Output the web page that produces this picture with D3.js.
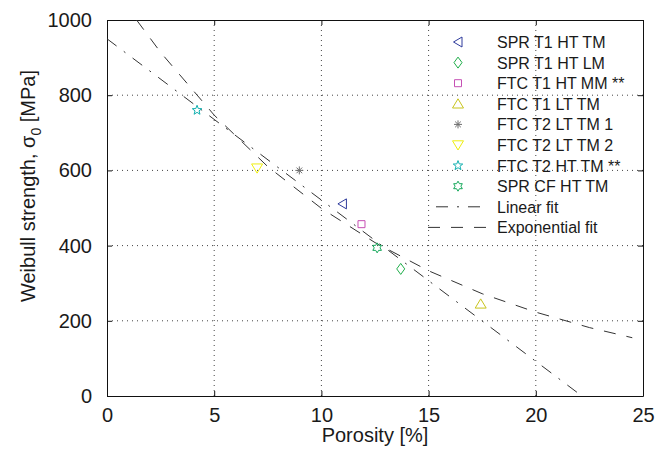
<html>
<head>
<meta charset="utf-8">
<title>Weibull strength vs porosity</title>
<script src="https://cdn.jsdelivr.net/npm/d3@7"></script>
<style>
  body { margin: 0; background: #fff; }
  text { font-family: "Liberation Sans", Arial, Helvetica, sans-serif; fill: #1a1a1a; }
</style>
</head>
<body>
<div id="chart"></div>
<script>
// data
const seriesNames = ["SPR T1 HT TM", "SPR T1 HT LM", "FTC T1 HT MM **", "FTC T1 LT TM",
                     "FTC T2 LT TM 1", "FTC T2 LT TM 2", "FTC T2 HT TM **", "SPR CF HT TM"];
const porosity = [10.98, 13.7, 11.87, 17.43, 8.97, 7.0, 4.2, 12.6];
const strength = [511, 338, 457, 245, 600, 606, 760, 394];
const markerShapes = ["triLeft", "diamond", "square", "triUp", "asterisk", "triDown", "pentagram", "hexagram"];
const markerColors = ["#2e3b9c", "#1fae4a", "#c64fb4", "#c8c41c", "#6e6e6e", "#eeee10", "#12b0b0", "#14a85a"];

const linearX = [0, 22.15];
const linearY = [950, 0];
const expX = [1.38, 2.5, 5, 7.5, 10, 12.5, 15, 17.5, 20, 22.5, 24.5];
const expY = [1000, 914, 747, 610, 499, 408, 333, 272, 223, 182, 155];

const xTicks = [0, 5, 10, 15, 20, 25];
const yTicks = [0, 200, 400, 600, 800, 1000];

const W = 669, H = 449;
const m = {left: 107, right: 26, top: 20, bottom: 53};

const x = d3.scaleLinear().domain([0, 25]).range([m.left, W - m.right]);
const y = d3.scaleLinear().domain([0, 1000]).range([H - m.bottom, m.top]);

const svg = d3.select("#chart").append("svg")
  .attr("width", W).attr("height", H);

// grid
const grid = svg.append("g").attr("stroke", "#444").attr("stroke-width", 1)
  .attr("stroke-dasharray", "1,4");
xTicks.slice(1, -1).forEach(t => {
  grid.append("line").attr("x1", x(t)).attr("x2", x(t))
    .attr("y1", y(0)).attr("y2", y(1000));
});
yTicks.slice(1, -1).forEach(t => {
  grid.append("line").attr("x1", x(0)).attr("x2", x(25))
    .attr("y1", y(t)).attr("y2", y(t));
});

// axes (box with inward ticks)
const tickSize = -5;
const fmt = d3.format("d");
svg.append("g").attr("transform", `translate(0,${y(0)})`)
  .call(d3.axisBottom(x).tickValues(xTicks).tickFormat(fmt).tickSizeInner(tickSize).tickSizeOuter(0).tickPadding(12));
svg.append("g").attr("transform", `translate(0,${y(1000)})`)
  .call(d3.axisTop(x).tickValues(xTicks).tickSizeInner(tickSize).tickSizeOuter(0).tickFormat(""));
svg.append("g").attr("transform", `translate(${x(0)},0)`)
  .call(d3.axisLeft(y).tickValues(yTicks).tickFormat(fmt).tickSizeInner(tickSize).tickSizeOuter(0).tickPadding(15));
svg.append("g").attr("transform", `translate(${x(25)},0)`)
  .call(d3.axisRight(y).tickValues(yTicks).tickSizeInner(tickSize).tickSizeOuter(0).tickFormat(""));

svg.selectAll(".domain").attr("stroke", "#111");
svg.selectAll(".tick line").attr("stroke", "#111");
svg.selectAll(".tick text").attr("font-size", 20).attr("fill", "#1a1a1a")
  .style("font-family", '"Liberation Sans", Arial, sans-serif');

// axis labels
svg.append("text").attr("x", 375).attr("y", 442).attr("text-anchor", "middle")
  .attr("font-size", 20).text("Porosity [%]");
const yl = svg.append("text").attr("transform", "translate(35,186) rotate(-90)")
  .attr("text-anchor", "middle").attr("font-size", 20);
yl.append("tspan").text("Weibull strength, σ");
yl.append("tspan").attr("font-size", 14).attr("dy", 6).text("0");
yl.append("tspan").attr("dy", -6).text(" [MPa]");

// marker shapes
function markerPath(shape, s) {
  const p = d3.path();
  if (shape === "triLeft") {
    p.moveTo(-s * 0.45, 0); p.lineTo(s * 0.4, -s * 0.5); p.lineTo(s * 0.4, s * 0.5); p.closePath();
  } else if (shape === "triUp") {
    p.moveTo(0, -s * 0.5); p.lineTo(s * 0.55, s * 0.42); p.lineTo(-s * 0.55, s * 0.42); p.closePath();
  } else if (shape === "triDown") {
    p.moveTo(0, s * 0.5); p.lineTo(s * 0.55, -s * 0.42); p.lineTo(-s * 0.55, -s * 0.42); p.closePath();
  } else if (shape === "diamond") {
    p.moveTo(0, -s * 0.55); p.lineTo(s * 0.4, 0); p.lineTo(0, s * 0.55); p.lineTo(-s * 0.4, 0); p.closePath();
  } else if (shape === "square") {
    const h = s * 0.35; p.rect(-h, -h, 2 * h, 2 * h);
  } else if (shape === "asterisk") {
    const r = s * 0.4;
    for (let i = 0; i < 4; i++) {
      const a = i * Math.PI / 4;
      p.moveTo(-r * Math.cos(a), -r * Math.sin(a)); p.lineTo(r * Math.cos(a), r * Math.sin(a));
    }
  } else if (shape === "pentagram" || shape === "hexagram") {
    const n = shape === "pentagram" ? 5 : 6;
    const ro = s * 0.5, ri = shape === "pentagram" ? ro * 0.42 : ro * 0.58;
    for (let i = 0; i < 2 * n; i++) {
      const a = -Math.PI / 2 + i * Math.PI / n;
      const r = i % 2 ? ri : ro;
      if (i === 0) p.moveTo(r * Math.cos(a), r * Math.sin(a));
      else p.lineTo(r * Math.cos(a), r * Math.sin(a));
    }
    p.closePath();
  }
  return p.toString();
}
const markerSize = 10;

// fit lines
const line = d3.line().x(d => x(d[0])).y(d => y(d[1]));
svg.append("path").attr("d", line(d3.zip(linearX, linearY)))
  .attr("fill", "none").attr("stroke", "#333").attr("stroke-width", 1)
  .attr("stroke-dasharray", "12,9,2,9");
svg.append("path").attr("d", line(d3.zip(expX, expY)))
  .attr("fill", "none").attr("stroke", "#333").attr("stroke-width", 1)
  .attr("stroke-dasharray", "12,11");

// points
seriesNames.forEach((name, i) => {
  svg.append("path")
    .attr("transform", `translate(${x(porosity[i])},${y(strength[i])})`)
    .attr("d", markerPath(markerShapes[i], markerSize))
    .attr("fill", "none").attr("stroke", markerColors[i]).attr("stroke-width", 1);
});

// legend
const lg = svg.append("g").attr("transform", "translate(428,42)");
const rowH = 20.6;
seriesNames.forEach((name, i) => {
  const r = lg.append("g").attr("transform", `translate(0,${i * rowH})`);
  r.append("path").attr("transform", "translate(30,0)")
    .attr("d", markerPath(markerShapes[i], markerSize))
    .attr("fill", "none").attr("stroke", markerColors[i]).attr("stroke-width", 1);
  r.append("text").attr("x", 69).attr("y", 6).attr("font-size", 16).text(name);
});
const fitNames = ["Linear fit", "Exponential fit"];
const fitDash = ["12,9,2,9", "12,11"];
fitNames.forEach((name, j) => {
  const r = lg.append("g").attr("transform", `translate(0,${(seriesNames.length + j) * rowH})`);
  r.append("line").attr("x1", j ? 0 : 8).attr("x2", 60).attr("y1", 0).attr("y2", 0)
    .attr("stroke", "#333").attr("stroke-dasharray", fitDash[j]);
  r.append("text").attr("x", 69).attr("y", 6).attr("font-size", 16).text(name);
});
</script>
</body>
</html>
